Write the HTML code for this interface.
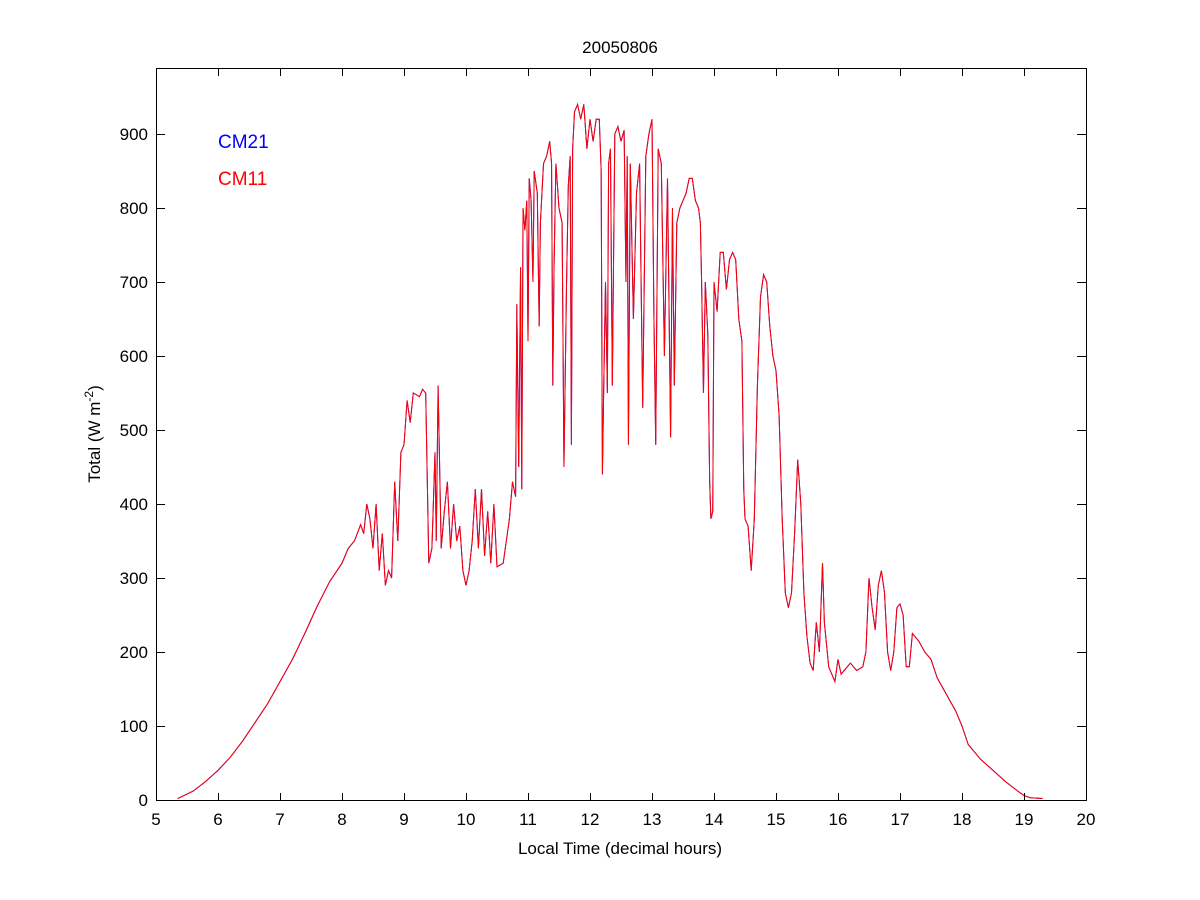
<!DOCTYPE html>
<html><head><meta charset="utf-8"><style>
body{margin:0;background:#fff}
svg{display:block;font-family:"Liberation Sans",sans-serif}
</style></head><body>
<svg width="1200" height="900" viewBox="0 0 1200 900">
<rect width="1200" height="900" fill="#fff"/>
<g transform="translate(-154,800) scale(62,-0.74)">
<polyline fill="none" stroke="#0000ff" stroke-width="1" vector-effect="non-scaling-stroke" points="5.35,2 5.6,12 5.8,25 6,40 6.2,58 6.4,80 6.6,105 6.8,130 7,160 7.2,190 7.4,225 7.6,262 7.8,295 8,320 8.1,340 8.2,350 8.3,372 8.35,360 8.4,400 8.45,380 8.5,340 8.55,400 8.6,310 8.65,360 8.7,290 8.75,310 8.8,300 8.85,430 8.9,350 8.95,470 9,480 9.05,540 9.1,510 9.15,550 9.25,545 9.3,555 9.35,550 9.4,320 9.45,340 9.5,470 9.52,350 9.55,560 9.6,340 9.65,390 9.7,430 9.75,340 9.8,400 9.85,350 9.9,370 9.95,310 10,290 10.05,310 10.1,350 10.15,420 10.2,340 10.25,420 10.3,330 10.35,390 10.4,320 10.45,400 10.5,315 10.6,320 10.7,380 10.75,430 10.8,410 10.82,670 10.85,450 10.88,720 10.9,420 10.92,800 10.95,770 10.98,810 11,620 11.02,840 11.05,810 11.08,700 11.1,850 11.15,820 11.18,640 11.2,780 11.25,860 11.3,870 11.35,890 11.38,860 11.4,560 11.42,720 11.45,860 11.5,800 11.55,780 11.58,450 11.62,690 11.65,830 11.68,870 11.7,480 11.72,880 11.75,930 11.8,940 11.85,920 11.9,940 11.95,880 12,920 12.05,890 12.1,920 12.15,920 12.18,850 12.2,440 12.22,550 12.25,700 12.28,550 12.3,860 12.33,880 12.36,560 12.4,900 12.45,910 12.5,890 12.55,905 12.58,700 12.6,870 12.62,480 12.65,860 12.7,650 12.75,820 12.8,860 12.85,530 12.9,870 12.95,900 13,920 13.03,660 13.06,480 13.1,880 13.15,860 13.2,600 13.25,840 13.3,490 13.33,800 13.36,560 13.4,780 13.45,800 13.5,810 13.55,820 13.6,840 13.65,840 13.7,810 13.75,800 13.78,780 13.8,700 13.83,550 13.86,700 13.9,630 13.93,430 13.95,380 13.98,390 14,700 14.05,660 14.1,740 14.15,740 14.2,690 14.25,730 14.3,740 14.35,730 14.4,650 14.45,620 14.48,420 14.5,380 14.55,370 14.6,310 14.65,380 14.7,560 14.75,680 14.8,710 14.85,700 14.9,640 14.95,600 15,580 15.05,520 15.1,380 15.15,280 15.2,260 15.25,280 15.3,360 15.35,460 15.4,400 15.45,280 15.5,220 15.55,185 15.6,175 15.65,240 15.7,200 15.75,320 15.78,240 15.85,180 15.9,170 15.95,160 16,190 16.05,170 16.1,175 16.2,185 16.3,175 16.4,180 16.45,200 16.5,300 16.55,260 16.6,230 16.65,290 16.7,310 16.75,280 16.8,200 16.85,175 16.9,200 16.95,260 17,265 17.05,250 17.1,180 17.15,180 17.2,225 17.3,215 17.4,200 17.5,190 17.6,165 17.7,150 17.8,135 17.9,120 18,100 18.1,75 18.3,55 18.5,40 18.7,25 18.9,12 19,6 19.1,3 19.3,2"/>
<polyline fill="none" stroke="#ff0000" stroke-width="1" vector-effect="non-scaling-stroke" points="5.35,2 5.6,12 5.8,25 6,40 6.2,58 6.4,80 6.6,105 6.8,130 7,160 7.2,190 7.4,225 7.6,262 7.8,295 8,320 8.1,340 8.2,350 8.3,372 8.35,360 8.4,400 8.45,380 8.5,340 8.55,400 8.6,310 8.65,360 8.7,290 8.75,310 8.8,300 8.85,430 8.9,350 8.95,470 9,480 9.05,540 9.1,510 9.15,550 9.25,545 9.3,555 9.35,550 9.4,320 9.45,340 9.5,470 9.52,350 9.55,560 9.6,340 9.65,390 9.7,430 9.75,340 9.8,400 9.85,350 9.9,370 9.95,310 10,290 10.05,310 10.1,350 10.15,420 10.2,340 10.25,420 10.3,330 10.35,390 10.4,320 10.45,400 10.5,315 10.6,320 10.7,380 10.75,430 10.8,410 10.82,670 10.85,450 10.88,720 10.9,420 10.92,800 10.95,770 10.98,810 11,620 11.02,840 11.05,810 11.08,700 11.1,850 11.15,820 11.18,640 11.2,780 11.25,860 11.3,870 11.35,890 11.38,860 11.4,560 11.42,720 11.45,860 11.5,800 11.55,780 11.58,450 11.62,690 11.65,830 11.68,870 11.7,480 11.72,880 11.75,930 11.8,940 11.85,920 11.9,940 11.95,880 12,920 12.05,890 12.1,920 12.15,920 12.18,850 12.2,440 12.22,550 12.25,700 12.28,550 12.3,860 12.33,880 12.36,560 12.4,900 12.45,910 12.5,890 12.55,905 12.58,700 12.6,870 12.62,480 12.65,860 12.7,650 12.75,820 12.8,860 12.85,530 12.9,870 12.95,900 13,920 13.03,660 13.06,480 13.1,880 13.15,860 13.2,600 13.25,840 13.3,490 13.33,800 13.36,560 13.4,780 13.45,800 13.5,810 13.55,820 13.6,840 13.65,840 13.7,810 13.75,800 13.78,780 13.8,700 13.83,550 13.86,700 13.9,630 13.93,430 13.95,380 13.98,390 14,700 14.05,660 14.1,740 14.15,740 14.2,690 14.25,730 14.3,740 14.35,730 14.4,650 14.45,620 14.48,420 14.5,380 14.55,370 14.6,310 14.65,380 14.7,560 14.75,680 14.8,710 14.85,700 14.9,640 14.95,600 15,580 15.05,520 15.1,380 15.15,280 15.2,260 15.25,280 15.3,360 15.35,460 15.4,400 15.45,280 15.5,220 15.55,185 15.6,175 15.65,240 15.7,200 15.75,320 15.78,240 15.85,180 15.9,170 15.95,160 16,190 16.05,170 16.1,175 16.2,185 16.3,175 16.4,180 16.45,200 16.5,300 16.55,260 16.6,230 16.65,290 16.7,310 16.75,280 16.8,200 16.85,175 16.9,200 16.95,260 17,265 17.05,250 17.1,180 17.15,180 17.2,225 17.3,215 17.4,200 17.5,190 17.6,165 17.7,150 17.8,135 17.9,120 18,100 18.1,75 18.3,55 18.5,40 18.7,25 18.9,12 19,6 19.1,3 19.3,2"/>
</g>
<rect x="156.5" y="68.5" width="930" height="732" fill="none" stroke="#000" stroke-width="1"/>
<g stroke="#000" stroke-width="1">
<path d="M156.5,800v-7M218.5,800v-7M280.5,800v-7M342.5,800v-7M404.5,800v-7M466.5,800v-7M528.5,800v-7M590.5,800v-7M652.5,800v-7M714.5,800v-7M776.5,800v-7M838.5,800v-7M900.5,800v-7M962.5,800v-7M1024.5,800v-7M1086.5,800v-7"/>
<path d="M156.5,69v7M218.5,69v7M280.5,69v7M342.5,69v7M404.5,69v7M466.5,69v7M528.5,69v7M590.5,69v7M652.5,69v7M714.5,69v7M776.5,69v7M838.5,69v7M900.5,69v7M962.5,69v7M1024.5,69v7M1086.5,69v7"/>
<path d="M156,800.5h9M156,726.5h9M156,652.5h9M156,578.5h9M156,504.5h9M156,430.5h9M156,356.5h9M156,282.5h9M156,208.5h9M156,134.5h9"/>
<path d="M1086,800.5h-9M1086,726.5h-9M1086,652.5h-9M1086,578.5h-9M1086,504.5h-9M1086,430.5h-9M1086,356.5h-9M1086,282.5h-9M1086,208.5h-9M1086,134.5h-9"/>
</g>
<g font-size="17" fill="#000" text-anchor="middle">
<text x="156" y="825">5</text><text x="218" y="825">6</text><text x="280" y="825">7</text><text x="342" y="825">8</text><text x="404" y="825">9</text><text x="466" y="825">10</text><text x="528" y="825">11</text><text x="590" y="825">12</text><text x="652" y="825">13</text><text x="714" y="825">14</text><text x="776" y="825">15</text><text x="838" y="825">16</text><text x="900" y="825">17</text><text x="962" y="825">18</text><text x="1024" y="825">19</text><text x="1086" y="825">20</text>
</g>
<g font-size="17" fill="#000" text-anchor="end">
<text x="148" y="806">0</text><text x="148" y="732">100</text><text x="148" y="658">200</text><text x="148" y="584">300</text><text x="148" y="510">400</text><text x="148" y="436">500</text><text x="148" y="362">600</text><text x="148" y="288">700</text><text x="148" y="214">800</text><text x="148" y="140">900</text>
</g>
<text x="620" y="53" font-size="17" text-anchor="middle">20050806</text>
<text x="620" y="854" font-size="17" text-anchor="middle">Local Time (decimal hours)</text>
<text transform="translate(100,434) rotate(-90)" font-size="17" text-anchor="middle">Total (W m<tspan dy="-7" font-size="12">-2</tspan><tspan dy="7">)</tspan></text>
<text x="218" y="148" font-size="19" fill="#0000ff">CM21</text>
<text x="218" y="185" font-size="19" fill="#ff0000">CM11</text>
</svg>
</body></html>
